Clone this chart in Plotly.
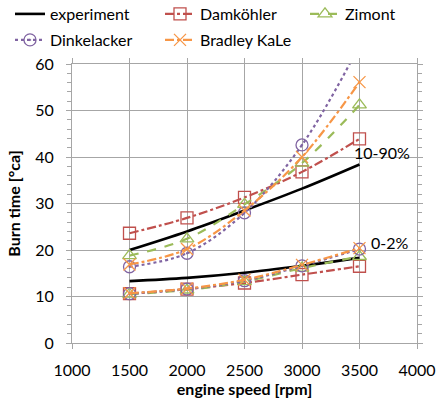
import plotly.graph_objects as go

speed = [1500, 2000, 2500, 3000, 3500]

# 10-90% burn duration
exp_top = [20.0, 24.0, 28.5, 33.2, 38.4]
dam_top = [23.6, 26.9, 31.3, 36.8, 43.9]
zim_top = [18.8, 22.4, 29.8, 38.7, 51.2]
din_top = [16.4, 19.3, 28.0, 42.6, 64.0]
bra_top = [16.9, 20.2, 28.5, 40.0, 56.1]

# 0-2% burn duration
exp_bot = [13.3, 14.0, 15.1, 16.6, 18.3]
dam_bot = [10.6, 11.6, 12.9, 14.7, 16.5]
zim_bot = [10.5, 11.4, 13.2, 16.1, 18.6]
din_bot = [10.6, 11.6, 13.4, 16.6, 20.2]
bra_bot = [10.7, 11.7, 13.6, 16.8, 20.4]

series = [
    ("experiment", exp_top, exp_bot, "#000000", "solid", None, 2.6, "legend"),
    ("Damköhler", dam_top, dam_bot, "#C0504D", "dashdot", "square-open", 2.2, "legend"),
    ("Zimont", zim_top, zim_bot, "#9BBB59", "dash", "triangle-up-open", 2.2, "legend3"),
    ("Dinkelacker", din_top, din_bot, "#8064A2", "dot", "circle-open-dot", 2.2, "legend2"),
    ("Bradley KaLe", bra_top, bra_bot, "#F79646", "dashdot", "x-thin-open", 2.2, "legend2"),
]

fig = go.Figure()
for name, top, bot, col, dash, sym, lw, leg in series:
    mode = "lines" if sym is None else "lines+markers"
    for i, ys in enumerate([top, bot]):
        fig.add_trace(go.Scatter(
            x=speed, y=ys, name=name, legendgroup=name, showlegend=(i == 0),
            legend=leg,
            mode=mode, line=dict(color=col, dash=dash, width=lw, shape="spline"),
            marker=dict(symbol=sym or "circle", size=12, color=col,
                        line=dict(color=col, width=1.3)),
            cliponaxis=True,
        ))

fig.add_annotation(x=3435, y=41, text="10-90%", showarrow=False, xanchor="left",
                   yanchor="middle", font=dict(size=16, color="black"))
fig.add_annotation(x=3583, y=21.6, text="0-2%", showarrow=False, xanchor="left",
                   yanchor="middle", font=dict(size=16, color="black"))

axis_col = "#A6A6A6"
leg_common = dict(orientation="h", xref="container", yref="container",
                  xanchor="left", yanchor="middle",
                  entrywidth=105, entrywidthmode="pixels",
                  font=dict(size=16), itemwidth=30, bgcolor="rgba(0,0,0,0)")
fig.update_layout(
    width=437, height=402,
    margin=dict(l=72, r=20, t=64, b=59, autoexpand=False),
    paper_bgcolor="white", plot_bgcolor="white",
    font=dict(family="Lato, Open Sans, sans-serif", size=16, color="black"),
    legend=dict(x=10 / 437, y=1 - 14 / 402, **leg_common),
    legend3=dict(x=305 / 437, y=1 - 14 / 402, **leg_common),
    legend2=dict(x=10 / 437, y=1 - 40 / 402, **leg_common),
    xaxis=dict(range=[1000, 4000], dtick=500, tick0=1000,
               showgrid=True, gridcolor=axis_col, gridwidth=1,
               showline=True, linecolor=axis_col, mirror="ticks",
               ticks="outside", ticklen=5, tickcolor=axis_col,
               zeroline=False, tickfont=dict(size=16), ticklabelstandoff=8,
               title=dict(text="<b>engine speed [rpm]</b>", standoff=2,
                          font=dict(size=16))),
    yaxis=dict(range=[0, 60], dtick=10,
               showgrid=True, gridcolor=axis_col, gridwidth=1,
               showline=True, linecolor=axis_col, mirror="ticks",
               ticks="outside", ticklen=5, tickcolor=axis_col,
               minor=dict(dtick=2, ticks="outside", ticklen=4, tickcolor=axis_col,
                          showgrid=False),
               zeroline=False, tickfont=dict(size=16), ticklabelstandoff=9,
               title=dict(text="<b>Burn time [°ca]</b>", standoff=10,
                          font=dict(size=16))),
)

fig.write_html("out.html")
